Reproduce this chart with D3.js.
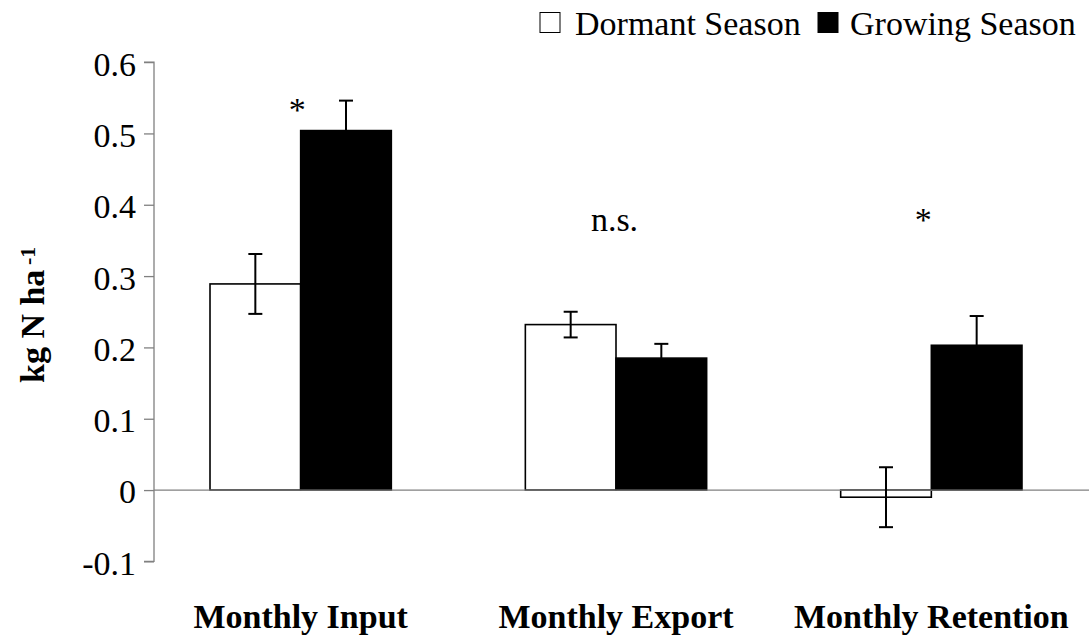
<!DOCTYPE html>
<html>
<head>
<meta charset="utf-8">
<script src="https://cdn.jsdelivr.net/npm/d3@7"></script>
<style>
  html, body { margin: 0; padding: 0; background: #fff; }
  svg { display: block; }
  svg text { font-family: "Liberation Serif", "Times New Roman", Times, serif; fill: #000; }
</style>
</head>
<body>
<svg id="chart" width="1089" height="644"></svg>
<script>
// Monthly nitrogen fluxes (kg N ha-1) by season, means with standard error
const categories = ["Monthly Input", "Monthly Export", "Monthly Retention"];
const seriesNames = ["Dormant Season", "Growing Season"];
const dormantValues = [0.289, 0.232, -0.010];
const dormantErrors = [0.042, 0.018, 0.042];
const growingValues = [0.504, 0.185, 0.203];
const growingErrors = [0.042, 0.020, 0.041];
const yTicks = [-0.1, 0, 0.1, 0.2, 0.3, 0.4, 0.5, 0.6];
const significance = ["*", "n.s.", "*"];

const serif = '"Liberation Serif", "Times New Roman", Times, serif';
const seriesFill = { "Dormant Season": "#ffffff", "Growing Season": "#000000" };

const rows = [];
categories.forEach((c, i) => {
  rows.push({ cat: c, series: seriesNames[0], value: dormantValues[i], err: dormantErrors[i] });
  rows.push({ cat: c, series: seriesNames[1], value: growingValues[i], err: growingErrors[i] });
});

const svg = d3.select("#chart");

const y = d3.scaleLinear().domain([-0.1, 0.6]).range([561.4, 62.1]);
const x = d3.scaleBand().domain(categories).range([143, 1089])
  .paddingInner(0.425).paddingOuter(0.2125);
const xs = d3.scaleBand().domain(seriesNames).range([0, x.bandwidth()]).padding(0);

const axisX = 154;
const axisGrey = "#808080";

// y axis
const yAxis = svg.append("g")
  .attr("transform", `translate(${axisX},0)`)
  .call(d3.axisLeft(y).tickValues(yTicks).tickSize(10).tickPadding(8)
    .tickFormat(d => d === 0 ? "0" : d3.format(".1f")(d).replace("\u2212", "-")));
yAxis.attr("font-family", serif);
yAxis.select(".domain").attr("stroke", axisGrey).attr("stroke-width", 1.3)
  .attr("d", `M-10,${y(0.6)}H0V${y(-0.1)}H-10`);
yAxis.selectAll(".tick line").attr("stroke", axisGrey).attr("stroke-width", 1.3);
yAxis.selectAll(".tick text")
  .attr("font-family", serif).style("font-size", "34px").attr("fill", "#000")
  .attr("dy", "0.38em");

// bars
svg.append("g").selectAll("rect").data(rows).join("rect")
  .attr("x", d => x(d.cat) + xs(d.series))
  .attr("width", xs.bandwidth())
  .attr("y", d => y(Math.max(0, d.value)))
  .attr("height", d => Math.abs(y(d.value) - y(0)))
  .attr("fill", d => seriesFill[d.series])
  .attr("stroke", "#000").attr("stroke-width", 1.6);

// zero line
svg.append("line")
  .attr("x1", axisX).attr("x2", 1089)
  .attr("y1", y(0)).attr("y2", y(0))
  .attr("stroke", axisGrey).attr("stroke-width", 1.3);

// error bars (growing season shows the upper whisker only)
const eb = svg.append("g").attr("stroke", "#000").attr("stroke-width", 2);
rows.forEach(d => {
  const cx = x(d.cat) + xs(d.series) + xs.bandwidth() / 2;
  const top = y(d.value + d.err), bot = y(d.value - d.err);
  const upperOnly = d.series === "Growing Season";
  eb.append("line").attr("x1", cx).attr("x2", cx).attr("y1", top).attr("y2", upperOnly ? y(d.value) : bot);
  eb.append("line").attr("x1", cx - 7).attr("x2", cx + 7).attr("y1", top).attr("y2", top);
  if (!upperOnly) eb.append("line").attr("x1", cx - 7).attr("x2", cx + 7).attr("y1", bot).attr("y2", bot);
});

// significance labels
const sigLevel = [0.517, 0.3635, 0.3638];
const sigShift = [-3.4, -1.5, -8];
svg.append("g").selectAll("text").data(categories).join("text")
  .attr("x", (c, i) => x(c) + x.bandwidth() / 2 + sigShift[i])
  .attr("y", (c, i) => y(sigLevel[i]))
  .attr("text-anchor", "middle")
  .attr("font-family", serif)
  .style("font-size", "34px")
  .text((c, i) => significance[i]);

// category labels
svg.append("g").selectAll("text").data(categories).join("text")
  .attr("x", c => x(c) + x.bandwidth() / 2)
  .attr("y", 628)
  .attr("text-anchor", "middle")
  .attr("font-family", serif)
  .style("font-size", "34px").style("font-weight", "bold")
  .text(c => c);

// y axis title with superscript
const yTitle = svg.append("g").attr("font-family", serif).style("font-weight", "bold");
yTitle.append("text")
  .attr("transform", "translate(44,383) rotate(-90)")
  .style("font-size", "34px")
  .text("kg N ha");
yTitle.append("text")
  .attr("transform", "translate(35,265) rotate(-90)")
  .style("font-size", "22px")
  .text("-1");

// legend
const legend = svg.append("g").attr("font-family", serif);
const boxX = [540, 818];
const labelX = [575, 850];
seriesNames.forEach((s, i) => {
  legend.append("rect").attr("x", boxX[i]).attr("y", 12.5).attr("width", 20).attr("height", 20)
    .attr("fill", seriesFill[s]).attr("stroke", "#000").attr("stroke-width", 1);
  legend.append("text").attr("x", labelX[i]).attr("y", 35)
    .style("font-size", "34px").text(s);
});
</script>
</body>
</html>
